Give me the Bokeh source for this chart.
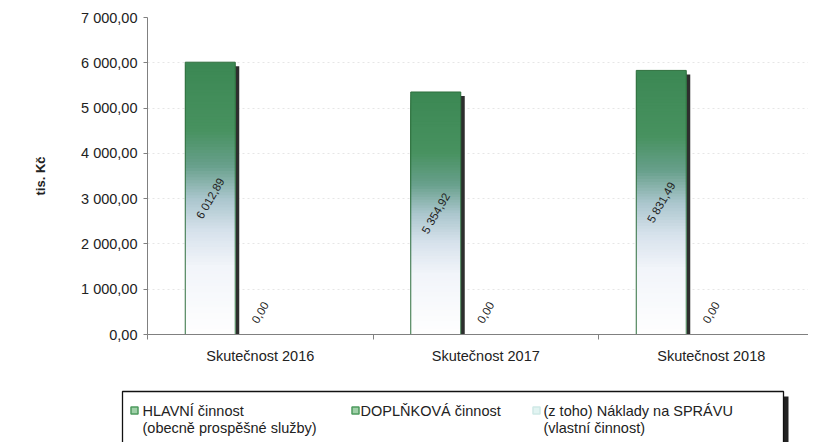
import numpy as np
from bokeh.plotting import figure
from bokeh.models import Range1d, FixedTicker
from bokeh.core.properties import value
from bokeh.embed import file_html
from bokeh.resources import INLINE

# ---------------- data ----------------
categories = ["Skutečnost 2016", "Skutečnost 2017", "Skutečnost 2018"]
hlavni = [6012.89, 5354.92, 5831.49]          # HLAVNÍ činnost
doplnkova = [0.0, 0.0, 0.0]                     # DOPLŇKOVÁ činnost
sprava = [None, None, None]                     # (z toho) Náklady na SPRÁVU – no values
series_names = ["HLAVNÍ činnost\n(obecně prospěšné služby)",
                "DOPLŇKOVÁ činnost",
                "(z toho) Náklady na SPRÁVU\n(vlastní činnost)"]
y_ticks = [0, 1000, 2000, 3000, 4000, 5000, 6000, 7000]
y_tick_labels = ["0,00", "1 000,00", "2 000,00", "3 000,00", "4 000,00",
                 "5 000,00", "6 000,00", "7 000,00"]
y_title = "tis. Kč"

FONT = "Liberation Sans"
FS = "14.5px"


def fmt(v):
    return f"{v:,.2f}".replace(",", " ").replace(".", ",")


# ---------------- main chart ----------------
CAT_PX = 225.5
FRAME_L = 147
W = 808
x_end = (W - FRAME_L) / CAT_PX

p = figure(width=W, height=378, x_range=Range1d(0, x_end), y_range=Range1d(0, 7000),
           output_backend="svg", toolbar_location=None,
           min_border_left=FRAME_L, min_border_right=0, min_border_top=17, min_border_bottom=44)
p.outline_line_color = None
p.background_fill_color = "white"
p.border_fill_color = "white"
p.xgrid.visible = False
p.ygrid.ticker = FixedTicker(ticks=y_ticks)
p.ygrid.grid_line_color = "#e6e6e6"
p.ygrid.grid_line_dash = "2 3"

n = len(categories)
bw = 50 / CAT_PX
xs = np.arange(n) + 0.5
c1 = xs - bw   # HLAVNÍ
c2 = xs        # DOPLŇKOVÁ
c3 = xs + bw   # SPRÁVA

# gradient stops (t from top of bar)
stops_t = [0.0, 0.25, 0.38, 0.5, 0.62, 0.75, 1.0]
stops_c = [(60, 136, 84), (72, 146, 96), (104, 160, 140), (170, 198, 205),
           (215, 226, 236), (242, 245, 250), (255, 255, 255)]


def grad_color(t):
    r = int(np.interp(t, stops_t, [c[0] for c in stops_c]))
    g = int(np.interp(t, stops_t, [c[1] for c in stops_c]))
    b = int(np.interp(t, stops_t, [c[2] for c in stops_c]))
    return f"#{r:02x}{g:02x}{b:02x}"


def draw_bars(centers, vals):
    sx = 4 / CAT_PX
    sy = 4 * 7000 / 317
    vv = [0.0 if v is None else v for v in vals]
    # shadow
    p.quad(left=[c - bw / 2 + sx for c in centers], right=[c + bw / 2 + sx for c in centers],
           bottom=[0] * len(vv), top=[max(v - sy, 0) for v in vv],
           fill_color="#2e2e2e", line_color=None)
    N = 90
    L, R, B, T, C = [], [], [], [], []
    for k in range(N):           # tallest first, shorter layers on top: no seams
        for c, v in zip(centers, vv):
            if v <= 0:
                continue
            L.append(c - bw / 2)
            R.append(c + bw / 2)
            T.append(v * (1 - k / N))
            B.append(0)
            C.append(grad_color((k + 0.5) / N))
    p.quad(left=L, right=R, bottom=B, top=T, fill_color=C, line_color=None)
    p.quad(left=[c - bw / 2 for c in centers], right=[c + bw / 2 for c in centers],
           bottom=[0] * len(vv), top=vv, fill_color=None, line_color="#2f6f3e", line_width=1)


draw_bars(c1, hlavni)
draw_bars(c2, doplnkova)

ang = np.deg2rad(60)
p.text(x=list(c1), y=[v / 2 for v in hlavni], text=[fmt(v) for v in hlavni],
       angle=ang, text_align="center", text_baseline="middle",
       text_font=value(FONT), text_font_size=value("11.5px"), text_color="#222222")
p.text(x=list(c2), y=doplnkova, text=[fmt(v) for v in doplnkova], y_offset=-22,
       angle=ang, text_align="center", text_baseline="middle",
       text_font=value(FONT), text_font_size=value("11.5px"), text_color="#222222")

# y axis
yax = p.yaxis[0]
yax.ticker = FixedTicker(ticks=y_ticks)
yax.major_label_overrides = {t: lab for t, lab in zip(y_ticks, y_tick_labels)}
yax.major_tick_out = 4
yax.major_tick_in = 0
yax.minor_tick_out = 0
yax.minor_tick_in = 0
yax.major_label_standoff = 6
yax.axis_line_color = "#808080"
yax.major_tick_line_color = "#808080"
yax.major_label_text_font = FONT
yax.major_label_text_font_size = FS
yax.major_label_text_color = "#222222"
yax.axis_label = y_title
yax.axis_label_text_font = FONT
yax.axis_label_text_font_style = "bold"
yax.axis_label_text_font_size = "13px"
yax.axis_label_text_color = "#222222"
yax.axis_label_standoff = 30

# x axis
xax = p.xaxis[0]
xax.ticker = FixedTicker(ticks=list(xs), minor_ticks=list(range(n + 1)))
xax.major_label_overrides = {float(x): c for x, c in zip(xs, categories)}
xax.major_tick_out = 0
xax.major_tick_in = 0
xax.minor_tick_out = 5
xax.minor_tick_in = 0
xax.minor_tick_line_color = "#808080"
xax.axis_line_color = "#808080"
xax.major_label_standoff = 8
xax.major_label_text_font = FONT
xax.major_label_text_font_size = FS
xax.major_label_text_color = "#222222"

# ---------------- legend strip (separate root, page pixel coordinates) ----------------
LH = 64
q = figure(width=W, height=LH, x_range=Range1d(0, W), y_range=Range1d(LH, 0),
           output_backend="svg", toolbar_location=None, min_border=0,
           x_axis_type=None, y_axis_type=None)
q.outline_line_color = None
q.grid.visible = False
q.border_fill_color = "white"

q.quad(left=[783], right=[788], top=[18], bottom=[90], fill_color="#222222", line_color=None)
q.quad(left=[122], right=[783], top=[13], bottom=[90], fill_color="white",
       line_color="#111111", line_width=1.3)

mk_x = [134, 355, 536]
txt_x = [142, 360, 543]
mk_fill = ["#9fd0a8", "#9fd0a8", "#e2f4f2"]
mk_line = ["#4e9a5e", "#4e9a5e", "#cfe9e6"]
q.quad(left=[x - 3.5 for x in mk_x], right=[x + 3.5 for x in mk_x], top=[28.5] * 3,
       bottom=[35.5] * 3, fill_color=mk_fill, line_color=mk_line, line_width=1.5)

tx, ty, tt = [], [], []
for x, name in zip(txt_x, series_names):
    for j, line in enumerate(name.split("\n")):
        tx.append(x)
        ty.append(32 + 17 * j)
        tt.append(line)
q.text(x=tx, y=ty, text=tt, text_align="left", text_baseline="middle",
       text_font=value(FONT), text_font_size=value(FS), text_color="#222222")

open("out.html", "w").write(file_html([p, q], INLINE))
